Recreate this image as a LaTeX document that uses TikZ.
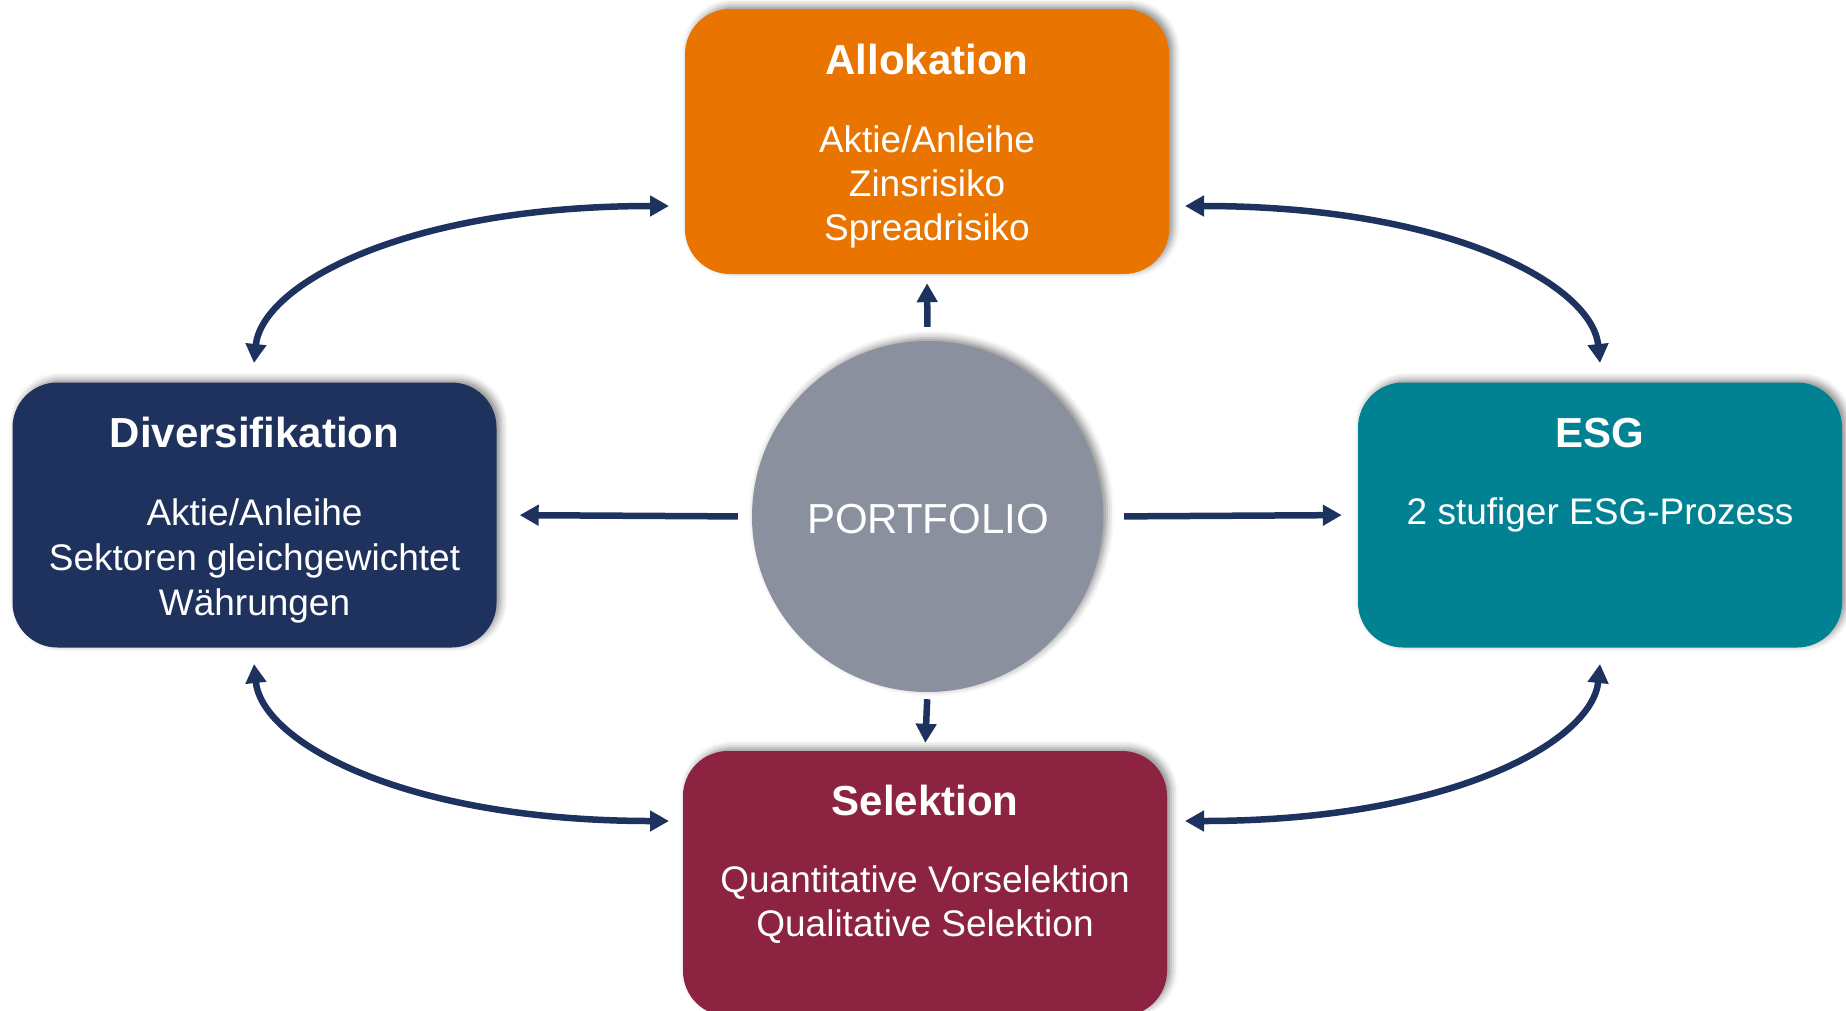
\documentclass[tikz,border=0pt]{standalone}
\usepackage{fontspec}
\setmainfont{Liberation Sans}
\usetikzlibrary{arrows.meta,shadows.blur}
\definecolor{cOrange}{RGB}{233,116,0}
\definecolor{cNavy}{RGB}{31,50,94}
\definecolor{cTeal}{RGB}{0,130,146}
\definecolor{cWine}{RGB}{139,35,65}
\definecolor{cGray}{RGB}{139,144,158}
\definecolor{cArrow}{RGB}{30,50,95}
\begin{document}
\begin{tikzpicture}[x=1pt,y=-1pt,
  softshadow/.style={blur shadow={shadow xshift=4pt,shadow yshift=3pt,shadow blur radius=7pt,shadow opacity=45}},
  boxnode/.style={rectangle,rounded corners=45pt,minimum width=484pt,minimum height=265pt,inner sep=0pt,draw=none,softshadow},
  titletext/.style={anchor=base,inner sep=0pt,text=white,font=\fontsize{42}{50}\selectfont\bfseries},
  bodytext/.style={anchor=base,inner sep=0pt,text=white,font=\fontsize{37}{44}\selectfont},
  conn/.style={draw=cArrow,line width=6.5pt,>={Triangle[length=19pt,width=20pt]}}
]
\useasboundingbox (0,0) rectangle (1846,1010);

% boxes
\node[boxnode,fill=cOrange] (allo) at (927,141.5) {};
\node[boxnode,fill=cNavy] (div) at (254.5,515) {};
\node[boxnode,fill=cTeal] (esg) at (1600,515) {};
\node[boxnode,fill=cWine] (sel) at (925,883.5) {};
\node[circle,fill=cGray,minimum size=351pt,inner sep=0pt,softshadow] (port) at (927.5,516.5) {};

% texts
\node[titletext] (alloT) at (927,74) {Allokation};
\node[bodytext] (alloL1) at (927,152) {Aktie/Anleihe};
\node[bodytext] (alloL2) at (927,196) {Zinsrisiko};
\node[bodytext] (alloL3) at (927,240) {Spreadrisiko};

\node[titletext] (divT) at (254.5,447) {Diversifikation};
\node[bodytext] (divL1) at (254.5,525) {Aktie/Anleihe};
\node[bodytext] (divL2) at (254.5,570) {Sektoren gleichgewichtet};
\node[bodytext] (divL3) at (254.5,615) {Währungen};

\node[titletext] (esgT) at (1600,447) {ESG};
\node[bodytext] (esgL1) at (1600,524) {2 stufiger ESG-Prozess};

\node[titletext] (selT) at (925,815) {Selektion};
\node[bodytext] (selL1) at (925,892) {Quantitative Vorselektion};
\node[bodytext] (selL2) at (925,936) {Qualitative Selektion};

\node[anchor=base,inner sep=0pt,text=white,font=\fontsize{42}{50}\selectfont] (portT) at (928,533) {PORTFOLIO};

% straight arrows from the portfolio
\draw[conn,->,shorten <=14pt,shorten >=9pt] (port.north) -- (allo.south);
\draw[conn,->,shorten <=7pt,shorten >=8pt] (port.south) -- (sel.north);
\draw[conn,->,shorten <=14pt,shorten >=23pt] (port.west) -- (div.east);
\draw[conn,->,shorten <=21pt,shorten >=16pt] (port.east) -- (esg.west);

% curved arrow end points
\coordinate (tlA) at (669,206);
\coordinate (tlB) at (254,363);
\coordinate (trA) at (1185,206);
\coordinate (trB) at (1600,363);
\coordinate (blA) at (669,821);
\coordinate (blB) at (254,664);
\coordinate (brA) at (1185,821);
\coordinate (brB) at (1600,664);

\draw[conn,<->] (tlA) .. controls (404,206) and (262,285) .. (tlB);
\draw[conn,<->] (trA) .. controls (1450,206) and (1592,285) .. (trB);
\draw[conn,<->] (blA) .. controls (404,821) and (262,742) .. (blB);
\draw[conn,<->] (brA) .. controls (1450,821) and (1592,742) .. (brB);
\end{tikzpicture}
\end{document}
